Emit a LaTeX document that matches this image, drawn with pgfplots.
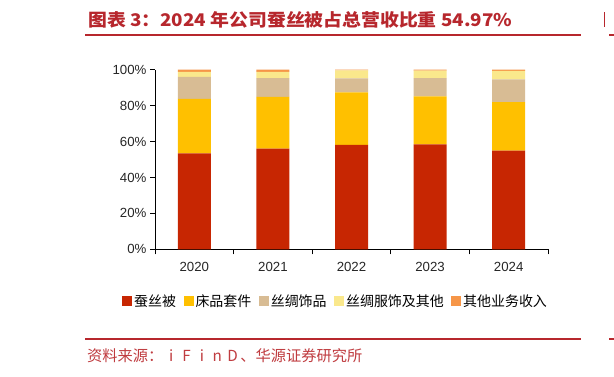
\documentclass[border=0pt]{standalone}
\usepackage{pgfplots}
\pgfplotsset{compat=1.18}
\usepackage{fontspec}
\setmainfont{Liberation Sans}
\newfontfamily\cjk{Noto Sans CJK SC}
\definecolor{cred}{RGB}{199,38,2}
\definecolor{cyel}{RGB}{255,192,0}
\definecolor{ctan}{RGB}{216,188,148}
\definecolor{clyel}{RGB}{250,232,140}
\definecolor{corg}{RGB}{246,150,72}
\definecolor{titlered}{RGB}{183,39,45}
\definecolor{srcred}{RGB}{192,60,64}
\newcommand\fw[1]{\makebox[15.4bp]{#1}}
\begin{document}
\begin{tikzpicture}
\useasboundingbox (0,0) rectangle (614bp,-377bp);
\fill[white] (0,0) rectangle (614bp,-377bp);
% title and decorations
\node[anchor=west, inner sep=0, text=titlered] at (88bp,-20bp)
  {\resizebox{424bp}{\height}{\cjk\bfseries\fontsize{17.5}{20}\selectfont 图表 3：2024 年公司蚕丝被占总营收比重 54.97\%}};
\draw[titlered, line width=2bp] (85bp,-34.7bp) -- (581bp,-34.7bp);
\draw[titlered, line width=2bp] (609bp,-34.7bp) -- (614bp,-34.7bp);
\draw[titlered, line width=1.2bp] (604.5bp,-12bp) -- (604.5bp,-27bp);
\draw[titlered, line width=2bp] (85bp,-339bp) -- (581bp,-339bp);
\draw[titlered, line width=2bp] (609bp,-339bp) -- (614bp,-339bp);
\node[anchor=west, inner sep=0, text=srcred] at (87bp,-356bp)
  {\cjk\fontsize{15.3}{18}\selectfont 资料来源：\fw{i}\fw{F}\fw{i}\fw{n}\fw{D}、华源证券研究所};
\begin{axis}[
  at={(155bp,-249.3bp)}, anchor=south west,
  scale only axis, width=393bp, height=179.6bp,
  ybar stacked, bar width=33bp,
  xmin=-0.5, xmax=4.5, ymin=0, ymax=100,
  axis x line=bottom, axis y line=left,
  axis line style={-, black, line width=0.8bp},
  xtick={-0.5,0.5,1.5,2.5,3.5,4.5},
  x tick label as interval,
  xticklabels={2020,2021,2022,2023,2024},
  ytick={0,20,40,60,80,100},
  yticklabels={0\%,20\%,40\%,60\%,80\%,100\%},
  tick align=outside, major tick length=5bp,
  tick style={black, line width=0.8bp},
  ticklabel style={font=\fontsize{13.3}{16}\selectfont, text=black!85},
  xticklabel style={yshift=-4bp},
  clip=false,
  legend columns=5,
  legend image code/.code={\draw[#1, draw=none] (0bp,-5bp) rectangle (10bp,5bp);},
  legend style={at={(axis description cs:-0.084,-0.288)}, anchor=west,
    draw=none, inner sep=0pt, fill=none,
    font=\cjk\fontsize{14}{16}\selectfont,
    nodes={inner xsep=2bp},
    /tikz/every even column/.append style={column sep=5.5bp}},
]
\addplot+[draw=none, fill=cred] coordinates {(0,53.4) (1,56.0) (2,58.2) (3,58.4) (4,54.97)};
\addplot+[draw=none, fill=cyel] coordinates {(0,30.4) (1,28.9) (2,29.2) (3,26.7) (4,27.0)};
\addplot+[draw=none, fill=ctan] coordinates {(0,12.2) (1,10.4) (2,7.8) (3,10.2) (4,12.6)};
\addplot+[draw=none, fill=clyel] coordinates {(0,2.8) (1,3.5) (2,4.4) (3,4.2) (4,4.8)};
\addplot+[draw=none, fill=corg] coordinates {(0,1.2) (1,1.2) (2,0.4) (3,0.5) (4,0.63)};
\legend{蚕丝被,床品套件,丝绸饰品,丝绸服饰及其他,其他业务收入}
\end{axis}
\end{tikzpicture}
\end{document}
